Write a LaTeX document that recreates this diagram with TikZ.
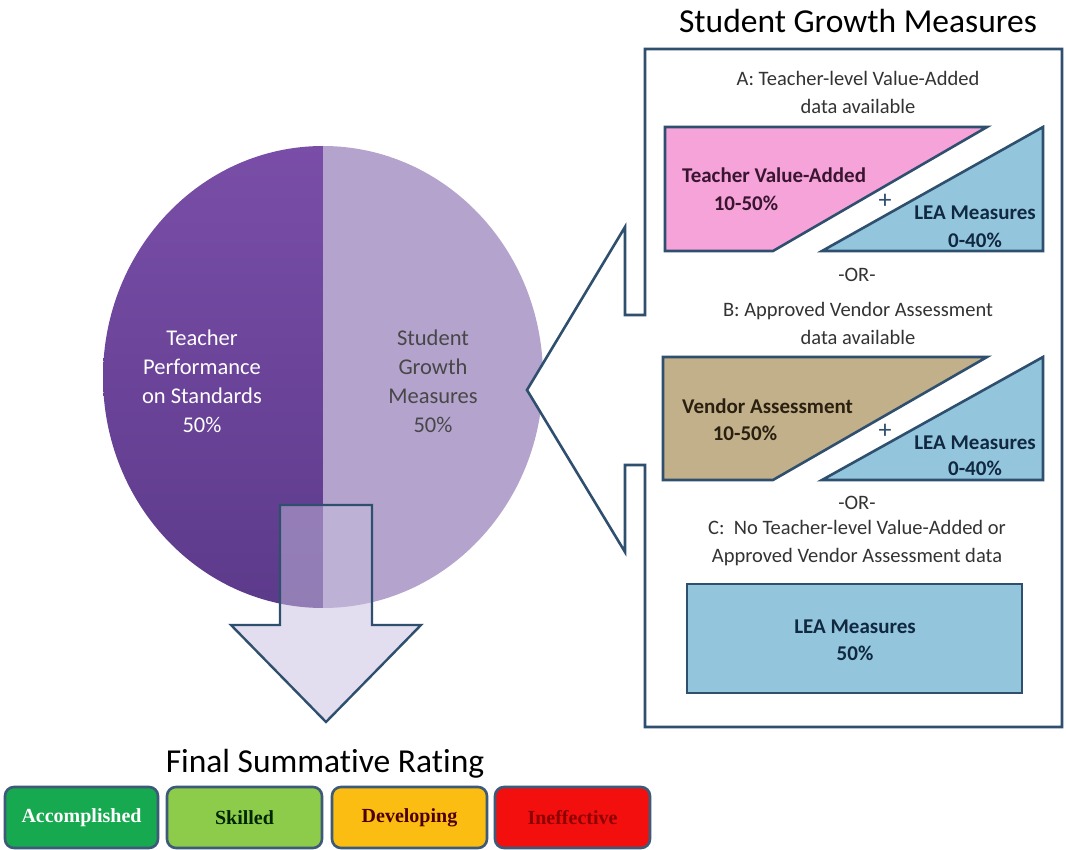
\documentclass[tikz,border=0pt]{standalone}
\usepackage{fontspec}
\setmainfont{Carlito}[Ligatures=NoCommon]
\newfontfamily\serifrate{Liberation Serif}
\definecolor{bordercol}{HTML}{2F4F6F}
\definecolor{ratebord}{HTML}{3D5A78}
\definecolor{pinkfill}{HTML}{F5A3D9}
\definecolor{bluefill}{HTML}{93C6DD}
\definecolor{tanfill}{HTML}{C2B08A}
\definecolor{piedarktop}{HTML}{7A4EA8}
\definecolor{piedarkbot}{HTML}{5C3A8A}
\definecolor{pielight}{HTML}{B4A3CD}
\definecolor{arrowfill}{HTML}{C8BFE0}
\definecolor{accgreen}{HTML}{16A94F}
\definecolor{skillgreen}{HTML}{8DCC4A}
\definecolor{devorange}{HTML}{FBBD12}
\definecolor{inefred}{HTML}{F40F0F}
\definecolor{pinktext}{HTML}{3A1530}
\definecolor{tantext}{HTML}{2A2010}
\definecolor{bluetext}{HTML}{102840}
\begin{document}
\begin{tikzpicture}[x=1pt,y=-1pt,
  shapeline/.style={draw=bordercol,line width=2.6pt,line join=miter},
  lbl/.style={font=\fontsize{20.5}{28}\selectfont,text=black!80,align=center,inner sep=0pt},
  blbl/.style={font=\fontsize{21}{27}\selectfont\bfseries,align=center,inner sep=0pt},
  pietxt/.style={font=\fontsize{22.5}{29}\selectfont,align=center,inner sep=0pt},
  bigtitle/.style={font=\fontsize{33.5}{36}\selectfont,inner sep=0pt},
  ratebox/.style={draw=ratebord,line width=2.6pt,rounded corners=9pt,inner sep=0pt,font=\serifrate\fontsize{20}{24}\selectfont\bfseries},
  plus/.style={font=\fontsize{26}{26}\selectfont,text=bordercol,inner sep=0pt},
]
\fill[white] (0,0) rectangle (1066,850);

% pie
\begin{scope}
  \clip (323,377) ellipse [x radius=220, y radius=231];
  \shade[top color=piedarktop,bottom color=piedarkbot] (100,140) rectangle (323,612);
  \fill[pielight] (323,140) rectangle (546,612);
\end{scope}
\node[pietxt,text=white] (tps) at (202,381) {Teacher\\Performance\\on Standards\\50\%};
\node[pietxt,text=black!72] (sgm) at (433,381) {Student\\Growth\\Measures\\50\%};

% down arrow
\draw[draw=bordercol,line width=2.4pt,fill=arrowfill,fill opacity=0.5,line join=miter]
  (280,505) -- (372,505) -- (372,625) -- (421,625) -- (326,722) -- (231,625) -- (280,625) -- cycle;

% titles
\node[bigtitle] (sgmtitle) at (858,21) {Student Growth Measures};
\node[bigtitle] (fsr) at (325,764) {Final Summat\kern0pt ive Rating};

% callout box
\coordinate (c1) at (645,49);
\coordinate (c2) at (1062,49);
\coordinate (c3) at (1062,727);
\coordinate (c4) at (645,727);
\coordinate (c5) at (645,465);
\coordinate (c6) at (625,465);
\coordinate (c7) at (625,552);
\coordinate (tip) at (527,390);
\coordinate (c8) at (625,227);
\coordinate (c9) at (625,315);
\coordinate (c10) at (645,315);
\draw[shapeline,fill=white] (c1) -- (c2) -- (c3) -- (c4) -- (c5) -- (c6) -- (c7) -- (tip) -- (c8) -- (c9) -- (c10) -- cycle;

% option A
\node[lbl] (atxt) at (858,92) {A: Teacher-level Value-Added\\data available};
\draw[shapeline,fill=pinkfill] (665,127) -- (987,127) -- (773,251) -- (665,251) -- cycle;
\draw[shapeline,fill=bluefill] (822,251) -- (1043,251) -- (1043,127) -- cycle;
\node[blbl,text=pinktext,anchor=west] (tva) at (682,175) {Teacher Value-Added};
\node[blbl,text=pinktext] (tvap) at (746,203) {10-50\%};
\node[plus] (plusa) at (885,201) {+};
\node[blbl,text=bluetext] (leaa) at (975,213) {LEA Measures};
\node[blbl,text=bluetext] (leaap) at (975,240) {0-40\%};
\node[lbl] (or1) at (857,275) {-OR-};

% option B
\node[lbl] (btxt) at (858,323) {B: Approved Vendor Assessment\\data available};
\draw[shapeline,fill=tanfill] (663,357) -- (987,357) -- (773,480) -- (663,480) -- cycle;
\draw[shapeline,fill=bluefill] (822,480) -- (1043,480) -- (1043,357) -- cycle;
\node[blbl,text=tantext,anchor=west] (va) at (682,406) {Vendor Assessment};
\node[blbl,text=tantext] (vap) at (745,433) {10-50\%};
\node[plus] (plusb) at (885,431) {+};
\node[blbl,text=bluetext] (leab) at (975,443) {LEA Measures};
\node[blbl,text=bluetext] (leabp) at (975,468) {0-40\%};
\node[lbl] (or2) at (857,503) {-OR-};

% option C
\node[lbl] (ctxt) at (857,543) {C:\ \ No Teacher-level Value-Added or\\Approved Vendor Assessment data};
\draw[shapeline,fill=bluefill] (687,584) rectangle (1022,693);
\node[blbl,text=bluetext] (leac) at (855,640) {LEA Measures\\50\%};

% ratings
\node[ratebox,fill=accgreen,text=white,minimum width=153pt,minimum height=61pt] (acc) at (81.5,817.5) {Accomplished};
\node[ratebox,fill=skillgreen,text=black!85!green,minimum width=155pt,minimum height=61pt] (skl) at (244.5,817.5) {Skilled};
\node[ratebox,fill=devorange,text=black!70!red,minimum width=155pt,minimum height=61pt] (dev) at (409.5,817.5) {Developing};
\node[ratebox,fill=inefred,text=red!55!black,minimum width=155pt,minimum height=61pt] (ine) at (572.5,817.5) {Ineffective};
\end{tikzpicture}
\end{document}
